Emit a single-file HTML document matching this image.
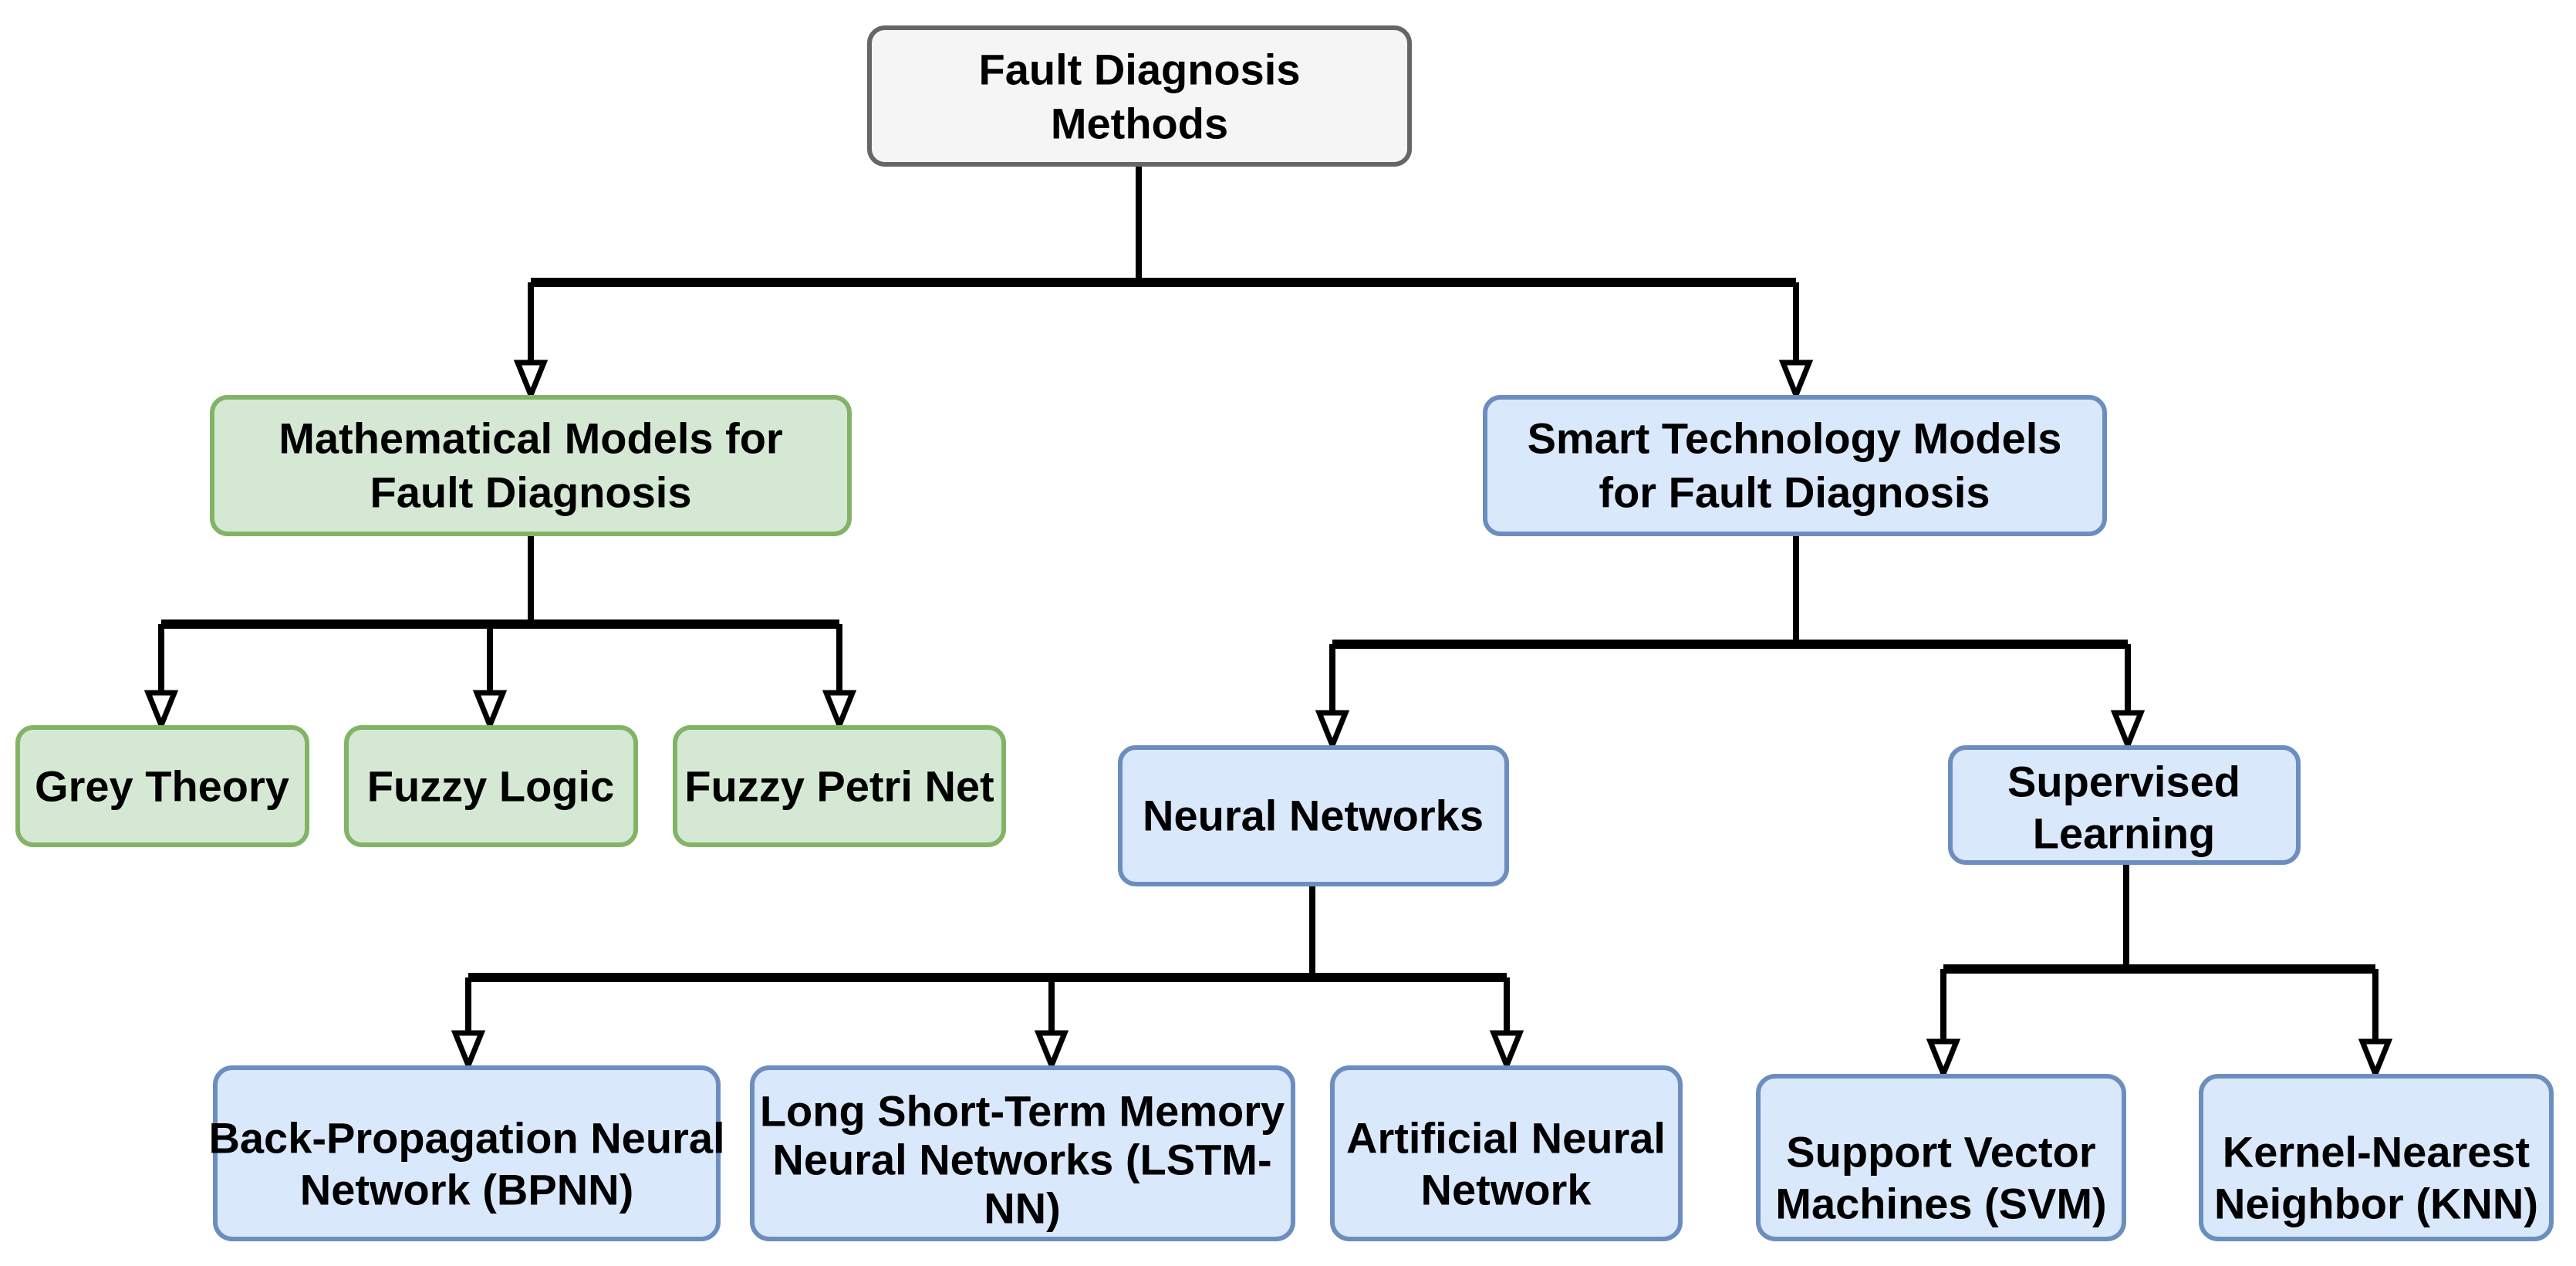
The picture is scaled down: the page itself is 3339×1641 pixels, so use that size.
<!DOCTYPE html>
<html><head><meta charset="utf-8"><style>
html,body{margin:0;padding:0;background:#fff;}
svg{display:block;}
text{font-family:"Liberation Sans",Arial,sans-serif;font-weight:bold;font-size:56px;fill:#000;text-anchor:middle;dominant-baseline:central;}
.g{fill:#f5f5f5;stroke:#666;stroke-width:6;}
.gr{fill:#d5e8d4;stroke:#82b366;stroke-width:6;}
.b{fill:#dae8fc;stroke:#6c8ebf;stroke-width:6;}
.l{fill:none;stroke:#000;stroke-width:8;}
.h{fill:none;stroke:#000;stroke-width:12;}
.a{fill:#fff;stroke:#000;stroke-width:7;stroke-linejoin:miter;}
</style></head><body>
<svg width="3339" height="1641" viewBox="0 0 3339 1641" xmlns="http://www.w3.org/2000/svg">
<path class="l" d="M1476 213 V366"/>
<path class="h" d="M688 366 H2328"/>
<path class="l" d="M688 366 V480 M2328 366 V480"/>
<path class="l" d="M688 692 V809"/>
<path class="h" d="M209 809 H1088"/>
<path class="l" d="M209 809 V908 M635 809 V908 M1088 809 V908"/>
<path class="l" d="M2328 692 V835"/>
<path class="h" d="M1727 835 H2758"/>
<path class="l" d="M1727 835 V934 M2758 835 V934"/>
<path class="l" d="M1701 1146 V1267"/>
<path class="h" d="M607 1267 H1953"/>
<path class="l" d="M607 1267 V1349 M1363 1267 V1349 M1953 1267 V1349"/>
<path class="l" d="M2756 1118 V1256"/>
<path class="h" d="M2519 1256 H3079"/>
<path class="l" d="M2519 1256 V1360 M3079 1256 V1360"/>
<g>
<path class="a" d="M671 470 L705 470 L688 512 Z"/>
<path class="a" d="M2311 470 L2345 470 L2328 512 Z"/>
<path class="a" d="M192 898 L226 898 L209 940 Z"/>
<path class="a" d="M618 898 L652 898 L635 940 Z"/>
<path class="a" d="M1071 898 L1105 898 L1088 940 Z"/>
<path class="a" d="M1710 924 L1744 924 L1727 966 Z"/>
<path class="a" d="M2741 924 L2775 924 L2758 966 Z"/>
<path class="a" d="M590 1339 L624 1339 L607 1381 Z"/>
<path class="a" d="M1346 1339 L1380 1339 L1363 1381 Z"/>
<path class="a" d="M1936 1339 L1970 1339 L1953 1381 Z"/>
<path class="a" d="M2502 1350 L2536 1350 L2519 1392 Z"/>
<path class="a" d="M3062 1350 L3096 1350 L3079 1392 Z"/>
</g>
<rect class="g" x="1127" y="36" width="700" height="177" rx="20"/>
<text x="1477" y="90">Fault Diagnosis</text><text x="1477" y="160">Methods</text>

<rect class="gr" x="275" y="515" width="826" height="177" rx="20"/>
<text x="688" y="568">Mathematical Models for</text><text x="688" y="638">Fault Diagnosis</text>

<rect class="b" x="1925" y="515" width="803" height="177" rx="20"/>
<text x="2326" y="568">Smart Technology Models</text><text x="2326" y="638">for Fault Diagnosis</text>

<rect class="gr" x="23" y="943" width="375" height="152" rx="20"/>
<text x="210" y="1019">Grey Theory</text>
<rect class="gr" x="449" y="943" width="375" height="152" rx="20"/>
<text x="636" y="1019">Fuzzy Logic</text>
<rect class="gr" x="875" y="943" width="426" height="152" rx="20"/>
<text x="1088" y="1019">Fuzzy Petri Net</text>

<rect class="b" x="1452" y="969" width="501" height="177" rx="20"/>
<text x="1702" y="1057">Neural Networks</text>

<rect class="b" x="2528" y="969" width="451" height="149" rx="20"/>
<text x="2753" y="1013">Supervised</text><text x="2753" y="1080">Learning</text>

<rect class="b" x="279" y="1384" width="652" height="222" rx="22"/>
<text x="605" y="1475">Back-Propagation Neural</text><text x="605" y="1542">Network (BPNN)</text>

<rect class="b" x="975" y="1384" width="701" height="222" rx="22"/>
<text x="1325" y="1440">Long Short-Term Memory</text><text x="1325" y="1503">Neural Networks (LSTM-</text><text x="1325" y="1566">NN)</text>

<rect class="b" x="1727" y="1384" width="451" height="222" rx="22"/>
<text x="1952" y="1475">Artificial Neural</text><text x="1952" y="1542">Network</text>

<rect class="b" x="2279" y="1395" width="474" height="211" rx="22"/>
<text x="2516" y="1493">Support Vector</text><text x="2516" y="1560">Machines (SVM)</text>

<rect class="b" x="2853" y="1395" width="454" height="211" rx="22"/>
<text x="3080" y="1493">Kernel-Nearest</text><text x="3080" y="1560">Neighbor (KNN)</text>
</svg>
</body></html>
